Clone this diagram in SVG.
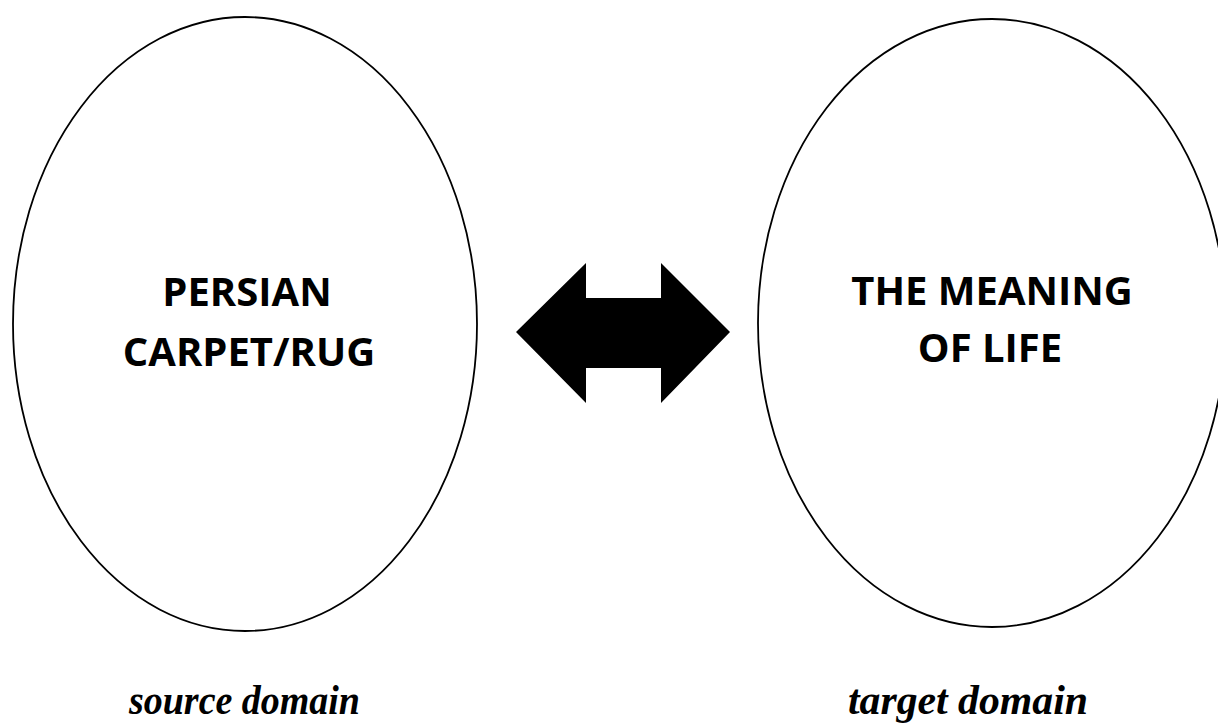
<svg xmlns="http://www.w3.org/2000/svg" width="1218" height="726" viewBox="0 0 1218 726">
<style>
.dom{fill:#fff;stroke:#000;stroke-width:1.8}
.lbl{font-family:"Open Sans","Liberation Sans",sans-serif;font-weight:bold;font-size:40px;fill:#000;text-anchor:middle}
.cap{font-family:"Liberation Serif",serif;font-weight:bold;font-style:italic;font-size:43px;fill:#000}
</style>
<rect width="1218" height="726" fill="#fff"/>
<g id="source">
<ellipse class="dom" cx="245" cy="324" rx="232" ry="307"/>
<text class="lbl" x="247" y="306">PERSIAN</text>
<text class="lbl" x="249" y="366">CARPET/RUG</text>
</g>
<g id="target">
<ellipse class="dom" cx="992" cy="323" rx="234" ry="304"/>
<text class="lbl" x="992" y="305">THE MEANING</text>
<text class="lbl" x="990" y="362">OF LIFE</text>
</g>
<g id="connectors">
<polygon fill="#000" points="516,332 586,263 586,298 661,298 661,263 730,332 661,403 661,368 586,368 586,403"/>
</g>
<g id="captions">
<text class="cap" x="129" y="714" textLength="231" lengthAdjust="spacingAndGlyphs">source domain</text>
<text class="cap" x="848" y="714" textLength="240" lengthAdjust="spacingAndGlyphs">target domain</text>
</g>
</svg>
